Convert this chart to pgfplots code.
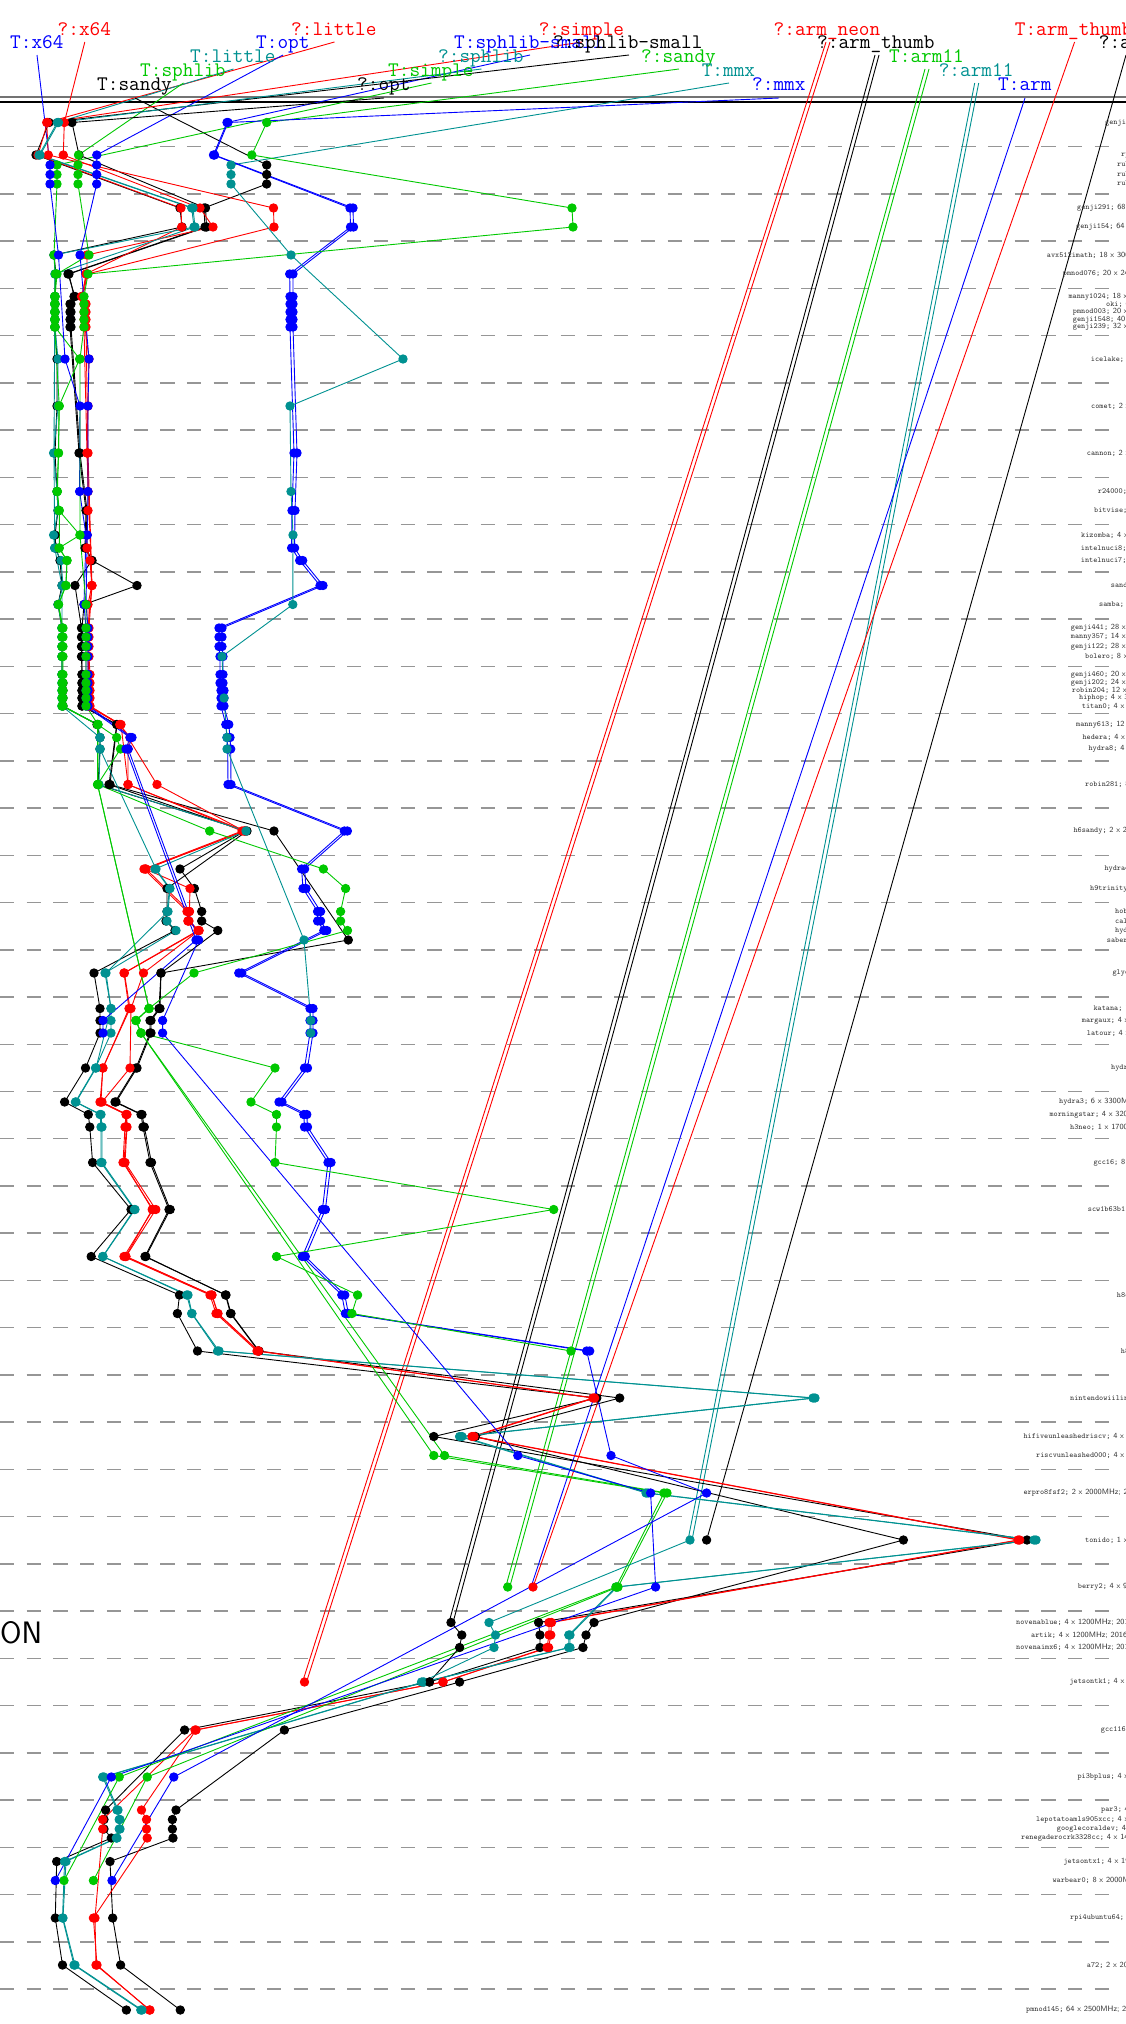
\documentclass[border=0pt]{standalone}
\usepackage{fontspec}
\usepackage{pgfplots}
\pgfplotsset{compat=1.18}

\definecolor{cred}{RGB}{255,0,0}
\definecolor{cblue}{RGB}{0,0,255}
\definecolor{cteal}{RGB}{0,145,145}
\definecolor{cgreen}{RGB}{0,200,0}
\definecolor{cgrid}{RGB}{150,150,150}

\pgfplotsset{
  ser/.style={color=#1, mark=*, mark size=4.2pt, line width=0.9pt, mark options={solid}},
  lead/.style={color=#1, line width=0.9pt, no marks},
}
% machine label: x, y, name, rest
\newcommand{\ml}[4]{\node[anchor=west,inner sep=0pt,text=black!80,font=\fontsize{7.8}{9}\selectfont] at (axis cs:#1,#2) {\texttt{#3;}\textsf{ #4}};}
% top label: colour, x, baseline, text
\newcommand{\tl}[4]{\node[anchor=base west,inner sep=0pt,text=#1,font=\fontsize{20.7}{24}\selectfont\ttfamily] at (axis cs:#2,#3) {#4};}

\begin{document}
\begin{tikzpicture}
\begin{axis}[
  scale only axis, width=1126pt, height=2024pt,
  xmin=0, xmax=1126, ymin=0, ymax=2024, y dir=reverse,
  hide axis, clip=false]

\coordinate (SW) at (axis cs:0,2024);
\coordinate (NE) at (axis cs:1126,0);

% row separators
\pgfplotsinvokeforeach{146.7,193.9,241.2,288.4,335.7,382.9,430.1,477.4,524.6,571.9,619.1,666.3,713.6,760.8,808.1,855.3,902.5,949.8,997.0,1044.3,1091.5,1138.7,1186.0,1233.2,1280.5,1327.7,1374.9,1422.2,1469.4,1516.7,1563.9,1611.1,1658.4,1705.6,1752.9,1800.1,1847.3,1894.6,1941.8,1989.1}{
  \draw[cgrid, line width=1.5pt, dash pattern=on 14.3pt off 12.4pt] (axis cs:0,#1) -- (axis cs:1118,#1);
}
\draw[black!55, line width=2pt] (axis cs:0,97) -- (axis cs:1126,97);
\draw[black, line width=1.2pt] (axis cs:0,102) -- (axis cs:1126,102);

\node[anchor=west,inner sep=0pt,font=\fontsize{31}{36}\selectfont\sffamily] at (axis cs:0,1633) {ON};

% leaders from the labels to the first points
\addplot[lead=cred] coordinates {(84.8,42)(64.3,122.5)};
\addplot[lead=cblue] coordinates {(37,55)(50,165)};
\addplot[lead=cred] coordinates {(334.5,42)(46.7,122.5)};
\addplot[lead=cblue] coordinates {(283,55)(96.8,155)};
\addplot[lead=cteal] coordinates {(233.5,69)(57.3,122.5)};
\addplot[lead=cgreen] coordinates {(183.5,83)(78.5,155)};
\addplot[lead=black] coordinates {(135,98)(266.7,165)};
\addplot[lead=cred] coordinates {(582,42)(47.5,122.5)};
\addplot[lead=cblue] coordinates {(530,55)(227,122.5)};
\addplot[lead=black] coordinates {(629,55)(49,122.5)};
\addplot[lead=cteal] coordinates {(481.5,69)(58.5,122.5)};
\addplot[lead=cgreen] coordinates {(431.5,83)(57,165)};
\addplot[lead=black] coordinates {(384,98)(72,122.5)};
\addplot[lead=cgreen] coordinates {(679,69)(266.7,122.5)};
\addplot[lead=cteal] coordinates {(729,83)(231,165)};
\addplot[lead=cblue] coordinates {(779,98)(228,122.5)};
\addplot[lead=cred] coordinates {(826,42)(302.5,1682)};
\addplot[lead=cred] coordinates {(830,42)(306.5,1682)};
\addplot[lead=black] coordinates {(875,55)(449,1622.5)};
\addplot[lead=black] coordinates {(879,55)(453,1622.5)};
\addplot[lead=cgreen] coordinates {(925,69)(505.7,1587)};
\addplot[lead=cgreen] coordinates {(929,69)(509.7,1587)};
\addplot[lead=cteal] coordinates {(974.7,83)(688,1540)};
\addplot[lead=cteal] coordinates {(978.7,83)(692,1540)};
\addplot[lead=cblue] coordinates {(1025,98)(531,1587)};
\addplot[lead=cred] coordinates {(1074.6,42)(533,1587)};
\addplot[lead=black] coordinates {(1126,55)(706.6,1540)};

% ?:sphlib-small
\addplot[ser=black] coordinates {(49,122.5)(36,155)(180,208)(182,227)(54,255)(56,274)(55,296.5)(55,304)(55,312)(55,319.5)(55,327)(57,359)(57,406)(55,453)(57,491.5)(58,510.5)(55,535)(56,548)(60,560.5)(62,585.5)(58,604.5)(62,628)(62,637)(62,646.5)(62,656.5)(62,674.5)(63,683)(63,690.5)(63,698)(63,706)(97,724.5)(100,737.5)(100,749)(98,784.5)(247,831)(167,888.5)(167,911.5)(166,921)(175,930.5)(94,973)(100,1008.5)(100,1020.5)(100,1033)(85.5,1068)(64.6,1102)(88.3,1114.5)(89.8,1127)(92.6,1162.5)(131,1209.5)(91.2,1256.5)(179.5,1295)(177.4,1313.5)(197.5,1351)(596.8,1398)(433.8,1436.5)(1027,1540)(538.6,1622.5)(540,1635)(540,1647.5)(429.4,1682)(184.6,1730)(105.6,1810)(104,1819.5)(104,1829)(111.3,1838)(56.7,1861.5)(55.3,1918)(62.5,1965)(126.4,2010)};
% ?:opt
\addplot[ser=black] coordinates {(72,122.5)(79,155)(205.5,208)(206.6,227)(69,274)(74,296.5)(70,304)(70,312)(70,319.5)(70,327)(79,453)(86,510.5)(85,548)(91.8,560.5)(75,585.5)(81.5,628)(81.5,637)(81.5,646.5)(81.5,656.5)(82,674.5)(82,683)(82,690.5)(82,698)(82,706)(116.7,724.5)(109,784.5)(245,831)(180,869)(194.4,888.5)(201.7,911.5)(201.7,921)(217.8,930.5)(161,973)(160,1008.5)(151,1020.5)(151,1033)(137,1068)(116,1102)(142,1114.5)(144.3,1127)(151.5,1162.5)(170.2,1209.5)(145.8,1256.5)(225.5,1295)(230.5,1313.5)(258.5,1351)(619.7,1398)(475.4,1436.5)(903.4,1540)(594,1622.5)(586,1635)(583,1647.5)(459.6,1682)(284.4,1730)(176,1810)(172.4,1819.5)(172.4,1829)(173,1838)(110,1861.5)(112.7,1918)(120.6,1965)(180.3,2010)};
% T:sandy
\addplot[ser=black] coordinates {(266.7,165)(266.7,174.5)(266.7,184)(204,208)(205,227)(68,274)(75,296.5)(71,304)(71,312)(71,319.5)(71,327)(80,453)(87,510.5)(86,548)(92,560.5)(137,585.5)(84,604.5)(82,628)(82,637)(82,646.5)(82,656.5)(82,674.5)(82,683)(82,690.5)(82,698)(82,706)(117,724.5)(110,784.5)(274,831)(348.3,940)(161,973)(159,1008.5)(150,1020.5)(150,1033)(136,1068)(115,1102)(141,1114.5)(143,1127)(150,1162.5)(169,1209.5)(145,1256.5)(226,1295)(231,1313.5)(259,1351)};
% ?:x64
\addplot[ser=cred] coordinates {(64.3,122.5)(63.3,155)(200,208)(213,227)(87,255)(87,274)(81.5,296.5)(85,304)(85,312)(85,319.5)(85,327)(89,359)(88,406)(87.3,453)(88,491.5)(88,510.5)(87,535)(87,548)(90,560.5)(91.8,585.5)(88,604.5)(88,628)(88,637)(88,646.5)(88,656.5)(88,674.5)(88,683)(88,690.5)(88,698)(88,706)(119.8,724.5)(130,737.5)(128,749)(128,784.5)(245,831)(145.4,869)(190,888.5)(189.4,911.5)(188,921)(199,930.5)(124.4,973)(130,1008.5)(102.7,1068)(101,1102)(126.4,1114.5)(126.4,1127)(124,1162.5)(152.2,1209.5)(125.7,1256.5)(211.8,1295)(217.6,1313.5)(258.5,1351)};
% ?:little
\addplot[ser=cred] coordinates {(46.7,122.5)(48.3,155)(273.5,208)(274,227)(87.3,274)(83,296.5)(86,304)(86,312)(86,319.5)(86,327)(88,453)(92,585.5)(89,628)(89,637)(89,646.5)(89,656.5)(90,674.5)(90,683)(90,690.5)(90,698)(90,706)(120,724.5)(157,784.5)(244,831)(146,869)(189.4,911.5)(189,921)(199,930.5)(143.5,973)(131,1008.5)(130,1068)(102,1102)(127,1114.5)(127,1127)(125,1162.5)(155.8,1209.5)(126,1256.5)(212,1295)(218,1313.5)(258.5,1351)(594.6,1398)(474,1436.5)(1019.7,1540)(551.5,1622.5)(550.8,1635)(548.6,1647.5)(443,1682)(196,1730)(141.5,1810)(146.5,1819.5)(146.5,1829)(147.2,1838)(93.4,1918)(97,1965)(149.4,2010)};
% ?:simple
\addplot[ser=cred] coordinates {(47.5,122.5)(38,155)(181,208)(181.7,227)(86,274)(82,296.5)(84,304)(84,312)(84,319.5)(84,327)(87,453)(91.8,585.5)(88,628)(88,637)(88,646.5)(88,656.5)(89,674.5)(89,683)(89,690.5)(89,698)(89,706)(121,724.5)(128,784.5)(242,831)(144,869)(187,911.5)(188,921)(198,930.5)(124,973)(129,1008.5)(103,1068)(100,1102)(126,1114.5)(125,1127)(123,1162.5)(153,1209.5)(124,1256.5)(210,1295)(216,1313.5)(257,1351)(593,1398)(472,1436.5)(1018,1540)(549,1622.5)(549,1635)(547,1647.5)(443,1682)(195,1730)(102.7,1819.5)(102.7,1829)(95,1918)(96,1965)(150,2010)};
% T:little
\addplot[ser=cteal] coordinates {(57.3,122.5)(39,155)(191.7,208)(194,227)(54,255)(55,274)(55,296.5)(55,304)(55,312)(55,319.5)(55,327)(58,359)(58,406)(53.6,453)(57,491.5)(58,510.5)(53.6,535)(54.7,548)(61,560.5)(63,585.5)(58,604.5)(62,628)(62,637)(62,646.5)(62,656.5)(62,674.5)(62,683)(62,690.5)(62,698)(62,706)(98,724.5)(100,737.5)(100,749)(99,784.5)(246,831)(155,869)(169.5,888.5)(167,911.5)(167,921)(176,930.5)(105,973)(111,1008.5)(111,1020.5)(111,1033)(95.5,1068)(75.4,1102)(100,1114.5)(101,1127)(101,1162.5)(134.3,1209.5)(102.7,1256.5)(186.7,1295)(191.7,1313.5)(217.6,1351)(813,1398)(459.6,1436.5)(646,1493)(1034,1540)(616,1587)(568.8,1635)(568.8,1647.5)(423,1682)(102.7,1777)(117,1810)(119.2,1819.5)(119.2,1829)(116.3,1838)(64.6,1861.5)(62.5,1918)(74,1965)(140.8,2010)};
% ?:sphlib
\addplot[ser=cteal] coordinates {(58.5,122.5)(40,155)(193,208)(195,227)(55,274)(54.7,296.5)(54.7,304)(54.7,312)(54.7,319.5)(54.7,327)(54,453)(54.7,548)(62,585.5)(62,628)(62,637)(62,646.5)(62,656.5)(62,674.5)(62,683)(62,690.5)(62,698)(62,706)(100,737.5)(100,749)(156,869)(170,888.5)(168,911.5)(106,973)(111,1008.5)(96,1068)(76,1102)(101,1114.5)(102,1127)(102,1162.5)(135,1209.5)(103,1256.5)(188,1295)(192,1313.5)(219,1351)(815,1398)(462,1436.5)(648,1493)(1036,1540)(617,1587)(570,1635)(570,1647.5)(424,1682)(104,1777)(118,1810)(120,1819.5)(120,1829)(117,1838)(66,1861.5)(63,1918)(75,1965)(142,2010)};
% T:sphlib
\addplot[ser=cgreen] coordinates {(78.5,155)(78,165)(78,174.5)(78,184)(89,255)(57,274)(55,296.5)(55,304)(55,312)(55,319.5)(55,327)(79.6,359)(59,406)(58.5,453)(57,491.5)(59,510.5)(80,535)(59,548)(67,560.5)(66,585.5)(58.5,604.5)(62,628)(62,637)(62,646.5)(62,656.5)(62,674.5)(62,683)(62,690.5)(62,698)(62,706)(97.6,724.5)(116.7,737.5)(120.5,749)(97.6,784.5)(149,1008.5)(136,1020.5)(141,1033)(433.8,1455.5)(664,1493)(616,1587)(119.2,1777)(64,1880.5)};
% T:simple
\addplot[ser=cgreen] coordinates {(57,165)(57,174.5)(57,184)(54,255)(55.5,274)(54.7,296.5)(54.7,304)(54.7,312)(54.7,319.5)(54.7,327)(59.3,406)(58.5,453)(57.4,491.5)(59.3,510.5)(59.3,548)(67,560.5)(65.8,585.5)(58.5,604.5)(63,628)(63,637)(63,646.5)(63,656.5)(63,674.5)(63,683)(63,690.5)(63,698)(63,706)(97.6,724.5)(97.6,784.5)(149,1008.5)(136,1020.5)(141,1033)(444.5,1455.5)(667,1493)(618,1587)(147.2,1777)(93.4,1880.5)};
% T:opt
\addplot[ser=cblue] coordinates {(96.8,155)(96.7,165)(96.7,174.5)(96.7,184)(80,255)(89,359)(88,406)(88,491.5)(87.3,535)(86,604.5)(88,628)(88,637)(88,646.5)(88,656.5)(88,674.5)(88,683)(88,690.5)(88,698)(88,706)(132,737.5)(128.2,749)(198.6,940)(162.6,1020.5)(162.6,1033)(517.8,1455.5)(650.6,1493)(655.6,1587)(111.3,1777)(55.3,1880.5)};
% T:x64
\addplot[ser=cblue] coordinates {(50,165)(50,174.5)(50,184)(58.5,255)(65,359)(80,406)(79.6,491.5)(86,535)(84,604.5)(86,628)(86,637)(86,646.5)(86,656.5)(86,674.5)(86,683)(86,690.5)(86,698)(86,706)(130,737.5)(126,749)(196,940)(103,1020.5)(103,1033)};
% T:sphlib-small
\addplot[ser=cblue] coordinates {(227,122.5)(213.5,155)(350,208)(350.5,227)(289.7,274)(290,296.5)(290,304)(290,312)(290,319.5)(290,327)(294,453)(292,510.5)(291.6,548)(299.7,560.5)(320,585.5)(219,628)(219,637)(219,646.5)(220,656.5)(220,674.5)(220,683)(221,690.5)(221,698)(221,706)(225.8,724.5)(227,737.5)(227.7,749)(228,784.5)(344.4,831)(301.6,869)(303,888.5)(317.6,911.5)(317.6,921)(323.8,930.5)(238.8,973)(310,1008.5)(310,1020.5)(310,1033)(304.5,1068)(279,1102)(303.8,1114.5)(304.5,1127)(328,1162.5)(322.4,1209.5)(302.3,1256.5)(341.8,1295)(345.4,1313.5)(586.7,1351)(611,1455.5)(706.6,1493)(173.8,1777)(112,1880.5)};
% ?:mmx
\addplot[ser=cblue] coordinates {(228,122.5)(214.5,155)(353,208)(353.5,227)(293,274)(293,296.5)(293,304)(293,312)(293,319.5)(293,327)(297,453)(295,510.5)(294.6,548)(302.7,560.5)(323,585.5)(222,628)(222,637)(222,646.5)(223,656.5)(223,674.5)(223,683)(224,690.5)(224,698)(224,706)(228.8,724.5)(230,737.5)(230.7,749)(231,784.5)(347.4,831)(304.6,869)(306,888.5)(320.6,911.5)(320.6,921)(326.8,930.5)(241.8,973)(313,1008.5)(313,1020.5)(313,1033)(307.5,1068)(282,1102)(306.8,1114.5)(307.5,1127)(331,1162.5)(325.4,1209.5)(305.3,1256.5)(344.8,1295)(348.4,1313.5)(589.7,1351)};
% T:mmx
\addplot[ser=cteal] coordinates {(231,165)(231,174.5)(231,184)(291,255)(403,359)(290,406)(291,491.5)(293,535)(292.8,604.5)(222,656.5)(224,698)(227,737.5)(227,749)(304,940)(310.8,1020.5)(310.8,1033)};
% ?:sandy
\addplot[ser=cgreen] coordinates {(266.7,122.5)(251.8,155)(572,208)(573,227)(88,274)(84,296.5)(84,304)(84,312)(84,319.5)(84,327)(80,359)(80,535)(86,604.5)(86,628)(86,637)(86,646.5)(86,656.5)(86,674.5)(86,683)(86,690.5)(86,698)(86,706)(98,724.5)(98,784.5)(209.7,831)(323.4,869)(345.6,888.5)(340.6,911.5)(340.6,921)(347.5,930.5)(194,973)(149,1008.5)(136,1020.5)(141,1033)(275,1068)(251,1102)(276.5,1114.5)(276.5,1127)(275,1162.5)(553.7,1209.5)(276.5,1256.5)(357.6,1295)(351.9,1313.5)(571,1351)};
% ARM-only series
\addplot[ser=cred] coordinates {(304.5,1682)};
\addplot[ser=cred] coordinates {(533,1587)};
\addplot[ser=black] coordinates {(451,1622.5)(461.8,1635)(459.6,1647.5)(429.4,1682)};
\addplot[ser=cgreen] coordinates {(507.7,1587)};
\addplot[ser=cteal] coordinates {(690,1540)(489,1622.5)(495.5,1635)(494,1647.5)(421.5,1682)};
\addplot[ser=black] coordinates {(706.6,1540)};

% series labels
\tl{cred}{57.5}{35}{?:x64}
\tl{cblue}{10}{48.3}{T:x64}
\tl{cred}{291}{35}{?:little}
\tl{cblue}{256}{48.3}{T:opt}
\tl{cteal}{190}{62.3}{T:little}
\tl{cgreen}{140}{76}{T:sphlib}
\tl{black}{97}{90.7}{T:sandy}
\tl{cred}{538.6}{35}{?:simple}
\tl{cblue}{454}{48.3}{T:sphlib-small}
\tl{black}{553}{48.3}{?:sphlib-small}
\tl{cteal}{438}{62.3}{?:sphlib}
\tl{cgreen}{388}{76}{T:simple}
\tl{black}{357}{90.7}{?:opt}
\tl{cgreen}{641}{62.3}{?:sandy}
\tl{cteal}{701.6}{76}{T:mmx}
\tl{cblue}{752}{90.7}{?:mmx}
\tl{cred}{773.5}{35}{?:arm\_neon}
\tl{black}{817}{48.3}{?:arm\_thumb}
\tl{cgreen}{889}{62.3}{T:arm11}
\tl{cteal}{938.6}{76}{?:arm11}
\tl{cblue}{998}{90.7}{T:arm}
\tl{cred}{1014.7}{35}{T:arm\_thumb}
\tl{black}{1098.7}{48.3}{?:arm}

% machine labels
\ml{1105}{122.5}{genji56}{8 x 3000MHz}
\ml{1121}{155}{ryzen}{16 x 3500MHz}
\ml{1117}{165}{ruby1}{8 x 3400MHz}
\ml{1117}{174.5}{ruby2}{8 x 3400MHz}
\ml{1117}{184}{ruby3}{8 x 3400MHz}
\ml{1077}{208}{genji291}{68 x 2200MHz}
\ml{1076}{227}{genji154}{64 x 2200MHz}
\ml{1046.7}{255}{avx512imath}{18 x 3000MHz}
\ml{1062.7}{274}{pmnod076}{20 x 2400MHz}
\ml{1068.3}{296.5}{manny1024}{18 x 3000MHz}
\ml{1106}{304}{oki}{6 x 3700MHz}
\ml{1072.7}{312}{pmnod003}{20 x 2400MHz}
\ml{1072.7}{319.5}{genji1548}{40 x 2400MHz}
\ml{1072.7}{327}{genji239}{32 x 2400MHz}
\ml{1090.7}{359}{icelake}{4 x 1300MHz}
\ml{1091}{406.5}{comet}{2 x 2000MHz}
\ml{1086.7}{453}{cannon}{2 x 2200MHz}
\ml{1097.7}{491.5}{r24000}{4 x 3000MHz}
\ml{1094}{510.5}{bitvise}{8 x 3600MHz}
\ml{1081}{535}{kizomba}{4 x 3200MHz}
\ml{1080.7}{548}{intelnuci8}{4 x 2300MHz}
\ml{1080.7}{560.5}{intelnuci7}{4 x 2400MHz}
\ml{1110.7}{585.5}{sandy2}{4 x 3400MHz}
\ml{1099}{604.5}{samba}{4 x 3300MHz}
\ml{1070.7}{628}{genji441}{28 x 2000MHz}
\ml{1070.7}{637}{manny357}{14 x 2600MHz}
\ml{1070.7}{646.5}{genji122}{28 x 2600MHz}
\ml{1085}{656.5}{bolero}{8 x 4000MHz}
\ml{1070.7}{674.5}{genji460}{20 x 2200MHz}
\ml{1070.7}{683}{genji202}{24 x 2400MHz}
\ml{1071.7}{690.5}{robin204}{12 x 2400MHz}
\ml{1079}{698}{hiphop}{4 x 3400MHz}
\ml{1081.7}{706}{titan0}{4 x 3500MHz}
\ml{1076}{724.5}{manny613}{12 x 3300MHz}
\ml{1082.3}{737.5}{hedera}{4 x 3100MHz}
\ml{1088.3}{749}{hydra8}{4 x 3300MHz}
\ml{1085}{784.5}{robin281}{8 x 2500MHz}
\ml{1073.3}{831}{h6sandy}{2 x 2800MHz}
\ml{1104.3}{869}{hydra4}{4 x 3400MHz}
\ml{1090}{888.5}{h9trinity}{4 x 3800MHz}
\ml{1115}{911.5}{hobbit}{4 x 3100MHz}
\ml{1115}{921}{callisto}{4 x 3500MHz}
\ml{1115}{930.5}{hydra5}{4 x 3200MHz}
\ml{1106.7}{940}{saber214}{4 x 3400MHz}
\ml{1112.3}{973}{glyco}{4 x 3200MHz}
\ml{1093.3}{1008.5}{katana}{1 x 1600MHz}
\ml{1081.7}{1020.5}{margaux}{4 x 2200MHz}
\ml{1086.7}{1033}{latour}{4 x 2400MHz}
\ml{1111}{1068}{hydra7}{4 x 3300MHz}
\ml{1059}{1102}{hydra3}{6 x 3300MHz}
\ml{1049.3}{1114.5}{morningstar}{4 x 3200MHz}
\ml{1070}{1127}{h3neo}{1 x 1700MHz}
\ml{1093.3}{1162.5}{gcc16}{8 x 2300MHz}
\ml{1087.7}{1209.5}{scw1b63b1}{4 x 2200MHz}
\ml{1116.7}{1295}{h8core}{2 x 2400MHz}
\ml{1120.7}{1351}{h8amd}{2 x 2600MHz}
\ml{1070}{1398}{nintendowiilinux}{1 x 729MHz}
\ml{1023.3}{1436.5}{hifiveunleashedriscv}{4 x 1500MHz}
\ml{1036}{1455.5}{riscvunleashed000}{4 x 1500MHz}
\ml{1023.3}{1493}{erpro8fsf2}{2 x 2000MHz; 2018}
\ml{1085}{1540}{tonido}{1 x 1200MHz}
\ml{1077.7}{1587}{berry2}{4 x 900MHz}
\ml{1016}{1622.5}{novenablue}{4 x 1200MHz; 2014}
\ml{1031}{1635}{artik}{4 x 1200MHz; 2016}
\ml{1016}{1647.5}{novenaimx6}{4 x 1200MHz; 2014}
\ml{1069.3}{1682}{jetsontk1}{4 x 2300MHz}
\ml{1100.7}{1730}{gcc116}{4 x 2100MHz}
\ml{1077.3}{1777}{pi3bplus}{4 x 1400MHz}
\ml{1101}{1810}{par3}{4 x 1500MHz}
\ml{1036}{1819.5}{lepotatoamls905xcc}{4 x 1500MHz}
\ml{1056.7}{1829}{googlecoraldev}{4 x 1500MHz}
\ml{1021}{1838}{renegaderocrk3328cc}{4 x 1400MHz}
\ml{1063.3}{1861.5}{jetsontx1}{4 x 1900MHz}
\ml{1052.3}{1880.5}{warbear0}{8 x 2000MHz}
\ml{1070}{1918}{rpi4ubuntu64}{4 x 1500MHz}
\ml{1086.7}{1965}{a72}{2 x 2000MHz}
\ml{1026}{2010}{pmnod145}{64 x 2500MHz; 2020}

\end{axis}
\pgfresetboundingbox
\path[use as bounding box] (SW) rectangle (NE);
\end{tikzpicture}
\end{document}
